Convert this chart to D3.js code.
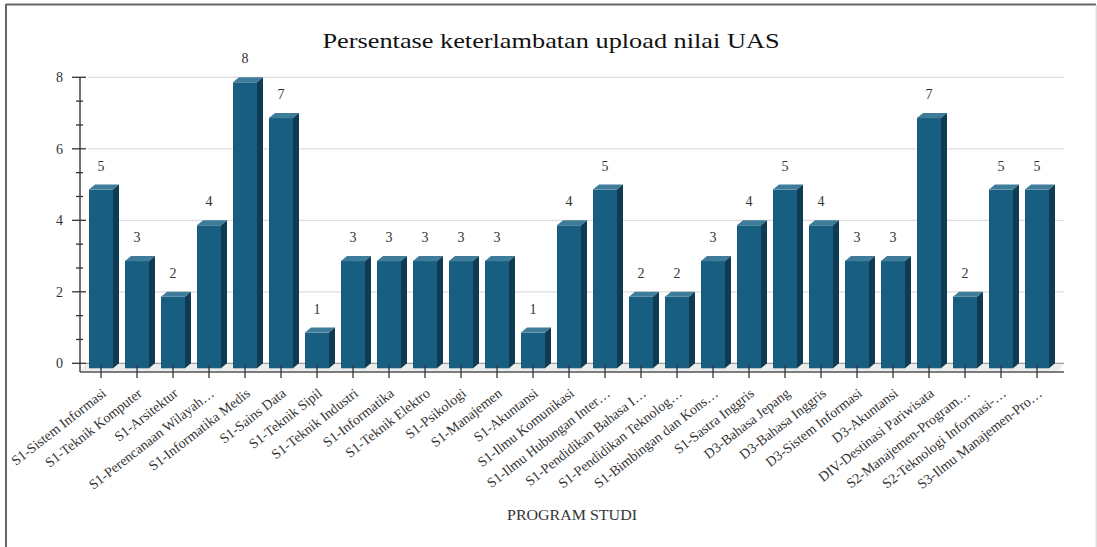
<!DOCTYPE html>
<html><head><meta charset="utf-8">
<script src="https://cdn.jsdelivr.net/npm/d3@7"></script>
<style>
html,body{margin:0;padding:0;background:#fff;}
svg{display:block;}
</style></head>
<body>
<svg id="chart" width="1097" height="547"></svg>
<script>
const categories = [
  "S1-Sistem Informasi","S1-Teknik Komputer","S1-Arsitektur","S1-Perencanaan Wilayah…",
  "S1-Informatika Medis","S1-Sains Data","S1-Teknik Sipil","S1-Teknik Industri",
  "S1-Informatika","S1-Teknik Elektro","S1-Psikologi","S1-Manajemen","S1-Akuntansi",
  "S1-Ilmu Komunikasi","S1-Ilmu Hubungan Inter…","S1-Pendidikan Bahasa I…",
  "S1-Pendidikan Teknolog…","S1-Bimbingan dan Kons…","S1-Sastra Inggris",
  "D3-Bahasa Jepang","D3-Bahasa Inggris","D3-Sistem Informasi","D3-Akuntansi",
  "DIV-Destinasi Pariwisata","S2-Manajemen-Program…","S2-Teknologi Informasi-…",
  "S3-Ilmu Manajemen-Pro…"
];
const values = [5,3,2,4,8,7,1,3,3,3,3,3,1,4,5,2,2,3,4,5,4,3,3,7,2,5,5];
const yTickValues = [0,2,4,6,8];
const titleText = "Persentase keterlambatan upload nilai UAS";
const xAxisTitle = "PROGRAM STUDI";

const FONT = "'Liberation Serif','Times New Roman',serif";
const svg = d3.select("#chart");
const W = 1097, H = 547;
const depthX = 6, depthY = 5;
const axisX = 80, floorY = 372;

// frame
svg.append("line").attr("x1",6).attr("x2",1096).attr("y1",4.5).attr("y2",4.5).attr("stroke","#666").attr("stroke-width",2);
svg.append("line").attr("x1",6).attr("x2",6).attr("y1",4).attr("y2",H).attr("stroke","#666").attr("stroke-width",2);
svg.append("line").attr("x1",1096.5).attr("x2",1096.5).attr("y1",5).attr("y2",H).attr("stroke","#ddd").attr("stroke-width",2);

const x = d3.scaleBand().domain(categories).range([83,1055]).paddingInner(1/3).paddingOuter(1/6);
const y = d3.scaleLinear().domain([0,8]).range([363.3,77.3]);
const bw = x.bandwidth();

// title
svg.append("text").attr("x",551).attr("y",48).attr("text-anchor","middle")
  .style("font-family",FONT).style("font-size","21px").style("fill","#111")
  .attr("textLength",457).attr("lengthAdjust","spacingAndGlyphs").text(titleText);

// gridlines
svg.append("g").selectAll("line").data(yTickValues.filter(d=>d>0)).join("line")
  .attr("x1",88).attr("x2",1064).attr("y1",d=>y(d)).attr("y2",d=>y(d))
  .attr("stroke","#ddd").attr("stroke-width",1.2);

// floor
svg.append("polygon")
  .attr("points",[[axisX,floorY],[axisX+depthX,y(0)],[1064,y(0)],[1064-depthX,floorY]].map(p=>p.join(",")).join(" "))
  .attr("fill","#ececec");
svg.append("line").attr("x1",axisX+depthX).attr("x2",1064).attr("y1",y(0)).attr("y2",y(0)).attr("stroke","#888").attr("stroke-width",1);

// bars
const bars = svg.append("g").selectAll("g").data(categories.map((c,i)=>({c,v:values[i]}))).join("g");
bars.append("rect")
  .attr("x",d=>x(d.c)).attr("y",d=>y(d.v)+depthY)
  .attr("width",bw).attr("height",d=>y(0)-y(d.v))
  .attr("fill","#175e80");
bars.append("polygon")
  .attr("points",d=>{const x0=x(d.c),yv=y(d.v);return [[x0,yv+depthY],[x0+depthX,yv],[x0+bw+depthX,yv],[x0+bw,yv+depthY]].map(p=>p.join(",")).join(" ");})
  .attr("fill","#3e7c99");
bars.append("polygon")
  .attr("points",d=>{const x0=x(d.c),yv=y(d.v),y0=y(0);return [[x0+bw,yv+depthY],[x0+bw+depthX,yv],[x0+bw+depthX,y0],[x0+bw,y0+depthY]].map(p=>p.join(",")).join(" ");})
  .attr("fill","#0f3c54");
bars.append("text")
  .attr("x",d=>x(d.c)+bw/2).attr("y",d=>y(d.v)-14)
  .attr("text-anchor","middle").style("font-family",FONT).style("font-size","14px").style("fill","#333").text(d=>d.v);

// bottom axis line
svg.append("line").attr("x1",axisX).attr("x2",1064).attr("y1",floorY).attr("y2",floorY).attr("stroke","#555").attr("stroke-width",1.5);

// y axis
const yAxis = d3.axisLeft(y).tickValues(yTickValues).tickSize(0).tickPadding(0);
const yg = svg.append("g").attr("transform",`translate(${axisX},0)`).call(yAxis);
yg.select(".domain").remove();
yg.selectAll("text").attr("x",-17).attr("dy","0.32em")
  .style("font-size","14px").style("font-family",FONT).attr("fill","#333");
svg.append("line").attr("x1",axisX).attr("x2",axisX).attr("y1",y(8)).attr("y2",floorY).attr("stroke","#444").attr("stroke-width",1.5);
svg.append("g").selectAll("line").data(yTickValues).join("line")
  .attr("x1",axisX-8).attr("x2",axisX+6).attr("y1",d=>y(d)).attr("y2",d=>y(d)).attr("stroke","#333").attr("stroke-width",1.3);
const minor = d3.range(0,8,2/3).filter(v=>Math.abs(v/2-Math.round(v/2))>0.01);
svg.append("g").selectAll("line").data(minor).join("line")
  .attr("x1",axisX-4).attr("x2",axisX+3).attr("y1",d=>y(d)).attr("y2",d=>y(d)).attr("stroke","#333").attr("stroke-width",1.3);

// x ticks and labels
const xt = svg.append("g").selectAll("g").data(categories).join("g")
  .attr("transform",d=>`translate(${x(d)+bw/2},0)`);
xt.append("line").attr("y1",365).attr("y2",378).attr("stroke","#333").attr("stroke-width",1.3);
xt.append("text").attr("text-anchor","end")
  .attr("transform","translate(6,395) rotate(-38)")
  .style("font-family",FONT).style("font-size","14px").style("fill","#333").text(d=>d);

// x axis title
svg.append("text").attr("x",572).attr("y",520).attr("text-anchor","middle")
  .style("font-family",FONT).style("font-size","14px").style("fill","#333")
  .attr("textLength",130).attr("lengthAdjust","spacingAndGlyphs").text(xAxisTitle);
</script>
</body></html>
